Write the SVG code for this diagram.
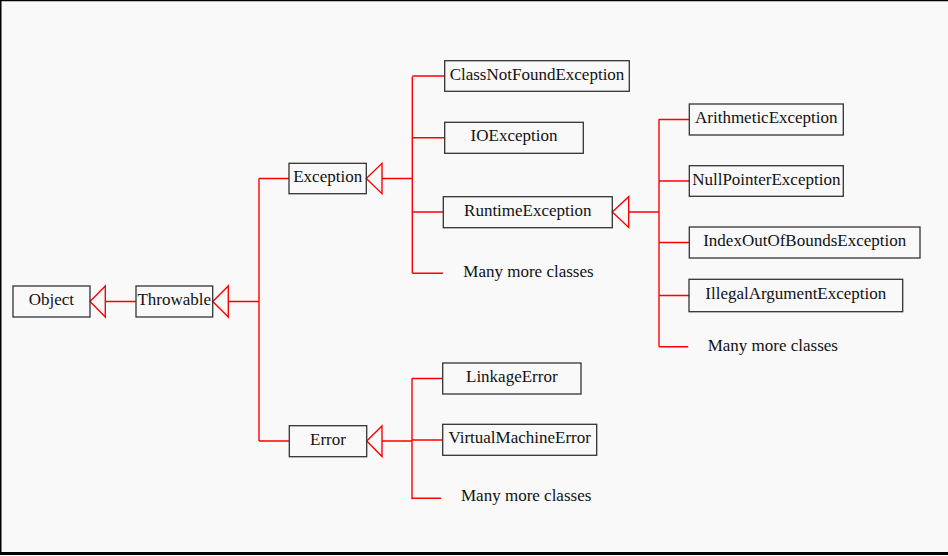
<svg xmlns="http://www.w3.org/2000/svg" width="948" height="556" viewBox="0 0 948 556">
<style>
.box{fill:none;stroke:#333;stroke-width:1.3}
.t{font-family:"Liberation Serif","Times New Roman",serif;font-size:17px;fill:#111;text-anchor:middle}
.m{font-family:"Liberation Serif","Times New Roman",serif;font-size:17px;fill:#111}
.c{fill:none;stroke:#ff0000;stroke-width:1.4}
.tri{fill:none;stroke:#ff0000;stroke-width:1.4;stroke-linejoin:miter}
</style>
<rect x="0" y="0" width="948" height="556" fill="#f9f9f9"/>
<path d="M0.75 0V553.5M0 0.5H948" stroke="#000" stroke-width="1.5" fill="none"/>
<path d="M0 553.5H948" stroke="#000" stroke-width="3" fill="none"/>
<g id="connectors">
  <path class="c" d="M105 301.5H136M228 301.5H259M259 178.5V441M259 178.5H289M259 441H289"/>
  <path class="tri" d="M90 301.5L105.3 286V317Z"/>
  <path class="tri" d="M212.7 301.5L228.3 286V317Z"/>
  <path class="c" d="M382 178.5H412.3M412.3 76.7V273.3M412.3 76H444.7M412.3 137.8H444.7M412.3 212H443.3M412.3 273.3H443"/>
  <path class="tri" d="M366.3 178.5L382 163.3V193.7Z"/>
  <path class="c" d="M628.7 212H659M659 119.3V346.7M659 119.5H689.3M659 181H689.3M659 242.5H689.3M659 295.5H689.3M659 346.7H688.3"/>
  <path class="tri" d="M612.3 212L628.7 196.7V227.5Z"/>
  <path class="c" d="M382 441H412M412 378.3V499.3M412 378.5H442.7M412 440H442.7M412 498.3H441"/>
  <path class="tri" d="M366.7 441L382 426V456.5Z"/>
</g>
<g id="Object"><rect class="box" x="13" y="286" width="77" height="31"/><text class="t" x="51.3" y="305">Object</text></g>
<g id="Throwable"><rect class="box" x="136" y="286" width="76.7" height="31"/><text class="t" x="174.3" y="305">Throwable</text></g>
<g id="Exception"><rect class="box" x="289" y="163.3" width="77.3" height="30.4"/><text class="t" x="327.7" y="182">Exception</text></g>
<g id="Error"><rect class="box" x="289.3" y="425.7" width="77.4" height="31"/><text class="t" x="328" y="444.5">Error</text></g>
<g id="ClassNotFoundException"><rect class="box" x="444.7" y="60.7" width="184.6" height="30.6"/><text class="t" x="537" y="79.5">ClassNotFoundException</text></g>
<g id="IOException"><rect class="box" x="444.7" y="122.3" width="138.6" height="31"/><text class="t" x="514" y="141.3">IOException</text></g>
<g id="RuntimeException"><rect class="box" x="443.3" y="196.7" width="169" height="31"/><text class="t" x="527.8" y="215.5">RuntimeException</text></g>
<g id="ManyMore1"><text class="m" x="463.3" y="277">Many more classes</text></g>
<g id="ArithmeticException"><rect class="box" x="689.3" y="104" width="154" height="31"/><text class="t" x="766.3" y="123">ArithmeticException</text></g>
<g id="NullPointerException"><rect class="box" x="689.3" y="165.7" width="154" height="30.6"/><text class="t" x="766.3" y="184.5">NullPointerException</text></g>
<g id="IndexOutOfBoundsException"><rect class="box" x="689.3" y="227" width="230.7" height="31"/><text class="t" x="804.7" y="246">IndexOutOfBoundsException</text></g>
<g id="IllegalArgumentException"><rect class="box" x="689" y="279.3" width="213.7" height="32.4"/><text class="t" x="795.8" y="299">IllegalArgumentException</text></g>
<g id="ManyMore2"><text class="m" x="707.7" y="350.5">Many more classes</text></g>
<g id="LinkageError"><rect class="box" x="442.7" y="363" width="138.3" height="31"/><text class="t" x="511.8" y="382">LinkageError</text></g>
<g id="VirtualMachineError"><rect class="box" x="442.7" y="424.3" width="154" height="31"/><text class="t" x="519.7" y="443.3">VirtualMachineError</text></g>
<g id="ManyMore3"><text class="m" x="461" y="501">Many more classes</text></g>
</svg>
